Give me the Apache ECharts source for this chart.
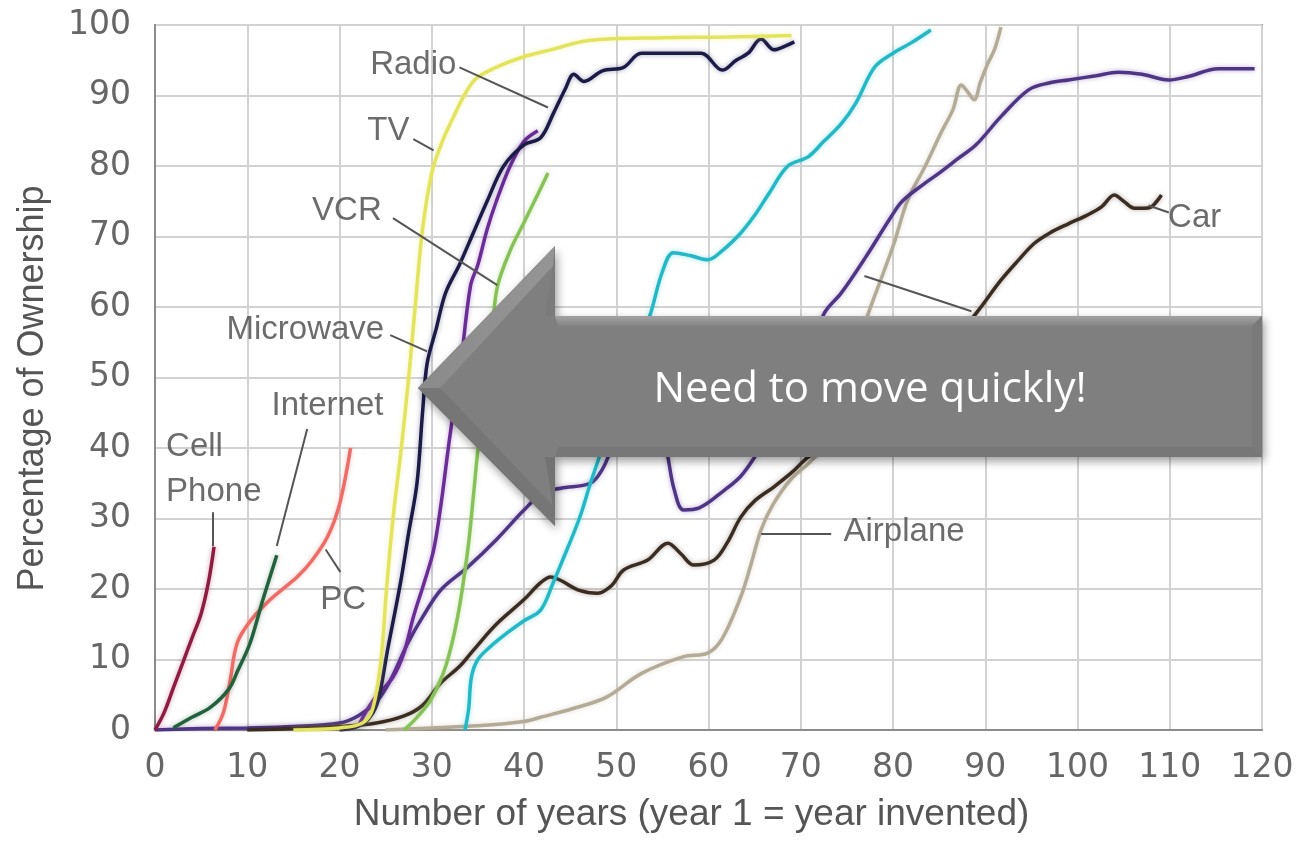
<!DOCTYPE html>
<html><head><meta charset="utf-8">
<script src="https://cdn.jsdelivr.net/npm/echarts@6/dist/echarts.min.js"></script>
<style>html,body{margin:0;padding:0;background:#fff}#c{width:1299px;height:851px}</style>
</head><body><div id="c"></div>
<script>
// ---- data ----
const xTicks = [0, 10, 20, 30, 40, 50, 60, 70, 80, 90, 100, 110, 120];
const yTicks = [0, 10, 20, 30, 40, 50, 60, 70, 80, 90, 100];
const xTitle = 'Number of years (year 1 = year invented)';
const yTitle = 'Percentage of Ownership';
const calloutText = 'Need to move quickly!';

const cellPhone = [[0,0],[1,2.5],[2,6],[3,9.5],[4,13],[5,16.5],[5.8,21],[6.4,26]];
const internet = [[2,0.3],[4,1.8],[6,3.2],[8,5.8],[9,8.5],[10.3,12.3],[11.7,18.5],[13.2,24.8]];
const pc = [[6.5,0],[7.4,2.4],[8.1,6.7],[8.9,12.3],[10.3,15.4],[12.5,18.5],[15.4,21.7],[17,24],[18.7,27.4],[20,32],[21.2,40]];
const tv = [[15,0],[20,0.3],[22.5,1],[23.6,3],[24.5,10],[25.1,20],[25.8,30],[26.7,40],[27.5,50],[28.2,60],[29,71],[30,79],[31,83],[32,86],[34.5,92],[37,94],[40,95.5],[43,96.5],[47,97.8],[55,98.2],[62,98.3],[69,98.5]];
const radio = [[20,0],[22,0.5],[23.3,1.8],[24.2,4.3],[25.2,11.3],[26.6,20.8],[27.5,28],[28.4,35],[29,45],[29.5,52],[30.5,57],[31.5,62],[33,66],[34.5,70.5],[36,75],[37.8,80],[40,83],[41.8,84],[43.2,87.5],[44.5,91],[45.4,93],[46.5,92],[48.5,93.5],[50.8,94],[52.7,96],[56,96],[59.2,96],[61.5,93.6],[63,95],[64.3,96],[65.7,98],[67.1,96.5],[68.3,97],[69.3,97.6]];
const microwave = [[22,0.5],[23.7,4.3],[25.8,7.5],[27,11],[28,16],[29.2,21],[30.2,25.5],[31,32],[32,42],[33.1,51.5],[34.2,63],[35,66],[36,71],[37,75],[38.5,80],[40,83.5],[41.5,85]];
const telephone = [[0,0],[5,0.2],[10,0.3],[15,0.5],[20,1],[22,2],[24,4],[25.5,7],[27.4,12.3],[29,16],[31,19.9],[33.9,23.1],[37,27],[40,31.2],[42,33.6],[44,34.3],[47.2,35],[48.5,37],[49.5,40],[51,45],[53,47],[54.8,44],[55.6,38.7],[56.3,34],[57.3,31.2],[59,31.5],[61.7,34],[63.5,36],[65,38.7],[67,43],[70,50],[72.5,59],[74.4,62],[77,67],[79.8,72.8],[81,75],[83.4,77.5],[85,79],[87,81],[89,83],[91.7,87],[94.7,90.8],[97,91.8],[99,92.2],[102,92.8],[104.4,93.3],[107,93],[109.9,92.2],[112,92.7],[115.3,93.8],[119.2,93.8]];
const vcr = [[27,0],[28.4,1.8],[29.9,4.3],[31.5,9],[32.8,16],[33.9,25.5],[34.5,33],[35,39.7],[35.8,48],[36.5,56],[37.1,62.8],[38.5,68],[40,72],[41.5,76],[42.6,79]];
const electricity = [[33.6,0],[34,3],[34.3,7.5],[35,10],[36.5,12],[38.2,13.8],[40,15.5],[41.8,17],[43.2,21],[44,23.5],[46,30],[47.2,35],[48.5,40],[50,46],[52,53],[53.7,59],[55,65],[56.2,67.7],[58,67.3],[59.9,66.7],[61.5,68],[63.5,70.5],[65,73],[66.5,76],[68.6,80],[70.8,81.3],[72.5,83.5],[74.4,86],[76,89],[78,94],[80,96],[82,97.5],[84.1,99.3]];
const car = [[10,0],[15,0.2],[20,0.5],[24,1],[27,2],[29,3.5],[31,6.7],[33,9],[34.5,11.3],[37,15],[40,18.5],[41.8,20.9],[42.9,21.7],[44,21.2],[46,19.8],[48,19.4],[49.5,20.5],[50.8,22.7],[53.4,24.1],[55.6,26.5],[57,25],[58.4,23.4],[60.6,24.1],[62,26.5],[63.5,30.2],[65,32.5],[67.1,34.5],[69,36.5],[70.8,38.7],[73,40.5],[76,43],[80,47],[84,51],[86.5,55],[89.3,59.6],[91.7,63.8],[93.5,66.5],[95.3,69],[97,70.5],[99,71.8],[101,73],[102.6,74.2],[104,75.9],[105,75],[106.2,74],[107.2,74],[108,74.2],[108.6,75],[109.1,75.9]];
const airplane = [[25,0],[30,0.3],[35,0.6],[40,1.2],[41.8,1.8],[46,3.3],[49,4.7],[52.7,8],[57.3,10.4],[59.9,10.9],[61.5,13],[63.5,18.9],[64.5,23],[65.7,28.4],[67,32],[68.9,35.5],[71,38],[73,41],[75,50],[77.3,59],[79,65],[80.1,69],[81.6,75.2],[83.5,80],[85.2,84.7],[86.5,88],[87.4,91.5],[88.1,90.5],[88.8,89.4],[89.5,92],[90.3,94.6],[91,96.5],[91.7,99.7]];

// label text anchors [x, y, text, align]
const labelPoints = [
  [28.0, 94.4, 'Radio', 'center'],
  [25.3, 85.0, 'TV', 'center'],
  [20.8, 73.6, 'VCR', 'center'],
  [16.3, 56.7, 'Microwave', 'center'],
  [18.7, 46.0, 'Internet', 'center'],
  [1.2, 37.0, 'Cell\nPhone', 'left'],
  [20.4, 18.5, 'PC', 'center'],
  [81.2, 28.1, 'Airplane', 'center'],
  [112.7, 72.6, 'Car', 'center']
];
// leader lines [x1,y1,x2,y2]
const leaders = [
  [33.0,94.0,42.6,88.3],
  [28.0,83.8,30.2,82.2],
  [25.8,72.6,37.1,63.1],
  [25.5,56.0,29.5,53.7],
  [16.5,42.7,13.2,26.1],
  [6.3,30.9,6.3,26.1],
  [18.5,25.6,20.1,22.4],
  [73.3,27.8,65.7,27.8],
  [109.9,73.4,107.7,74.4],
  [76.9,64.4,88.5,59.4]
];

const seriesDefs = [
  ['Airplane', airplane, '#b3ab96'],
  ['Telephone', telephone, '#4f3585'],
  ['Car', car, '#3b2c22'],
  ['Electricity', electricity, '#22b8c6'],
  ['VCR', vcr, '#86c257'],
  ['Microwave', microwave, '#6a2d96'],
  ['Radio', radio, '#1c1b48'],
  ['TV', tv, '#e3e35c'],
  ['PC', pc, '#ee6c66'],
  ['Internet', internet, '#23613d'],
  ['Cell Phone', cellPhone, '#8e1c40']
];

const chart = echarts.init(document.getElementById('c'), null, {renderer: 'canvas'});
const FONT = '"Liberation Sans", Arial, sans-serif';
const TICKFONT = '"DejaVu Sans", sans-serif';

const series = seriesDefs.map(([name, data, color]) => ({
  name, type: 'line', data, showSymbol: false, smooth: 0.35,
  lineStyle: {color, width: 3.5, shadowBlur: 5, shadowColor: color + '66'},
  z: 3
}));

series.push({
  name: 'labels', type: 'scatter', symbolSize: 0, z: 5,
  data: labelPoints.map(p => ({value: [p[0], p[1]], name: p[2],
    label: {align: p[3]}})),
  label: {show: true, position: 'inside', formatter: p => p.name,
    fontFamily: FONT, fontSize: 33, color: '#474747', lineHeight: 45, verticalAlign: 'middle'},
  markLine: {
    silent: true, symbol: 'none', animation: false,
    lineStyle: {color: '#555', width: 2, type: 'solid'},
    label: {show: false},
    data: leaders.map(l => [{coord: [l[0], l[1]]}, {coord: [l[2], l[3]]}])
  }
});

// callout arrow geometry (decoration, pixel space)
const tipX = 418, tipY = 388, headX = 555, headTop = 246, headBot = 526, shTop = 316, shBot = 457, endX = 1262;
const bev = 10;
const arrow = [
  {type: 'polygon', z: 100, shape: {points: [[tipX,tipY],[headX,headTop],[headX,shTop],[endX,shTop],[endX,shBot],[headX,shBot],[headX,headBot]]},
    style: {fill: '#7f7f7f', shadowBlur: 10, shadowOffsetX: 2, shadowOffsetY: 4, shadowColor: 'rgba(0,0,0,0.4)'}},
  {type: 'polygon', z: 101, shape: {points: [[headX,shTop],[endX,shTop],[endX-bev,shTop+bev],[headX+3,shTop+bev]]},
    style: {fill: new echarts.graphic.LinearGradient(0,0,0,1,[{offset:0,color:'#a3a3a3'},{offset:1,color:'#838383'}])}},
  {type: 'polygon', z: 101, shape: {points: [[headX,shBot],[endX,shBot],[endX-bev,shBot-bev],[headX+3,shBot-bev]]},
    style: {fill: '#777777'}},
  {type: 'polygon', z: 102, shape: {points: [[endX,shTop],[endX,shBot],[endX-bev,shBot-bev],[endX-bev,shTop+bev]]},
    style: {fill: '#7a7a7a'}},
  {type: 'polygon', z: 101, shape: {points: [[tipX,tipY],[headX,headTop],[headX-2,headTop+bev*2],[tipX+bev*2.2,tipY]]},
    style: {fill: new echarts.graphic.LinearGradient(0,0,1,0,[{offset:0,color:'#8a8a8a'},{offset:1,color:'#959595'}])}},
  {type: 'polygon', z: 101, shape: {points: [[tipX,tipY],[headX,headBot],[headX-2,headBot-bev*2],[tipX+bev*2.2,tipY]]},
    style: {fill: '#767676'}},
  {type: 'polygon', z: 101, shape: {points: [[headX,headTop],[headX,shTop],[headX-bev,shTop],[headX-2,headTop+bev*2]]},
    style: {fill: '#7b7b7b'}},
  {type: 'polygon', z: 101, shape: {points: [[headX,headBot],[headX,shBot],[headX-bev,shBot],[headX-2,headBot-bev*2]]},
    style: {fill: '#737373'}},
  {type: 'text', z: 110, x: 870, y: 390,
    style: {text: calloutText, fill: '#ffffff', font: '42px "Open Sans", sans-serif', align: 'center', verticalAlign: 'middle'}}
];

chart.setOption({
  animation: false,
  backgroundColor: '#ffffff',
  grid: {left: 155, right: 37, top: 25, bottom: 121, show: true, borderColor: '#8c8c8c', borderWidth: 2},
  xAxis: {
    type: 'value', min: xTicks[0], max: xTicks[xTicks.length-1], interval: 10,
    name: xTitle, nameLocation: 'middle', nameGap: 66,
    nameTextStyle: {fontFamily: FONT, fontSize: 37, color: '#555', padding: [0, 34, 0, 0]},
    axisLine: {show: true, lineStyle: {color: '#8c8c8c', width: 2}},
    axisTick: {show: false},
    axisLabel: {fontFamily: TICKFONT, fontSize: 33, color: '#666', margin: 22},
    splitLine: {show: true, lineStyle: {color: '#d2d2d2', width: 2}}
  },
  yAxis: {
    type: 'value', min: yTicks[0], max: yTicks[yTicks.length-1], interval: 10,
    name: yTitle, nameLocation: 'middle', nameGap: 104,
    nameTextStyle: {fontFamily: FONT, fontSize: 36, color: '#555', padding: [0, 22, 0, 0]},
    axisLine: {show: true, lineStyle: {color: '#8c8c8c', width: 2}},
    axisTick: {show: false},
    axisLabel: {fontFamily: TICKFONT, fontSize: 33, color: '#666', margin: 24},
    splitLine: {show: true, lineStyle: {color: '#d2d2d2', width: 2}}
  },
  series,
  graphic: arrow
});
</script></body></html>
